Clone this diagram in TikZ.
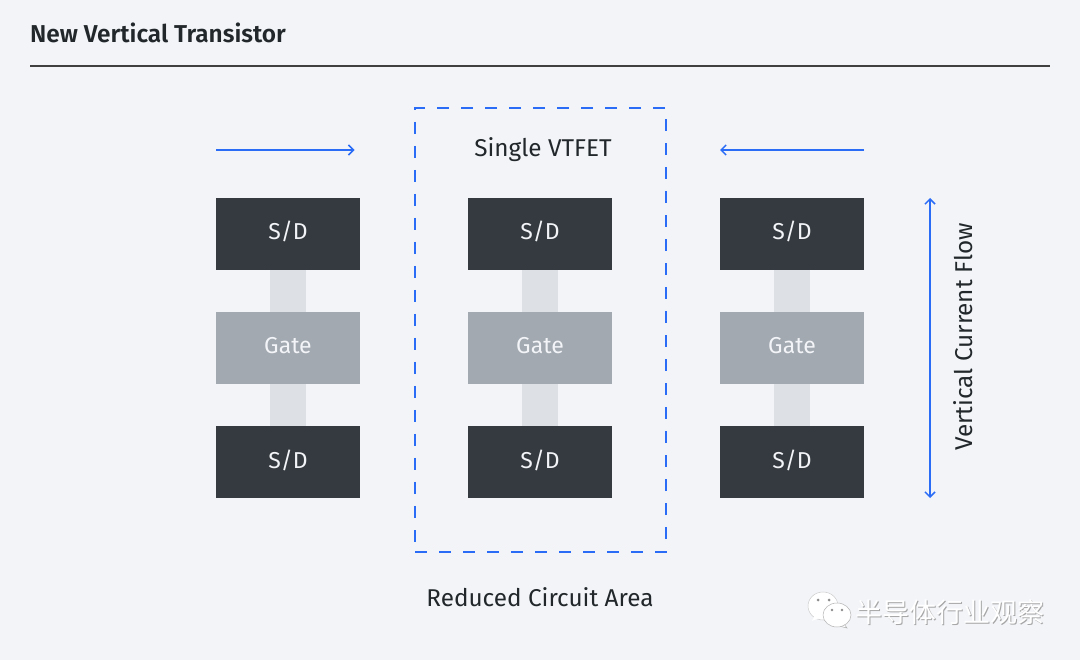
\documentclass[tikz,border=0pt]{standalone}
\usepackage{fontspec}
\setmainfont{Fira Sans}[BoldFont={Fira Sans SemiBold}]
\newfontfamily\cjk{Noto Sans CJK SC}
\usetikzlibrary{arrows.meta}
\definecolor{pagebg}{HTML}{F2F4F8}
\definecolor{darkbox}{HTML}{343A3F}
\definecolor{gatefill}{HTML}{A2A9B0}
\definecolor{channel}{HTML}{DDE1E6}
\definecolor{flowblue}{HTML}{2B6CF6}
\definecolor{inktext}{HTML}{21272A}
\tikzset{
  sdbox/.style={fill=darkbox, text=pagebg, minimum width=144pt, minimum height=72pt, inner sep=0pt, text height=16pt, text depth=4pt, font=\fontsize{23}{23}\selectfont},
  gatebox/.style={sdbox, fill=gatefill},
  textlabel/.style={text=inktext, inner sep=0pt, font=\fontsize{24.3}{24.3}\selectfont},
  barb/.tip={Straight Barb[length=5pt,width=10pt,line width=1.5pt]},
  flow/.style={draw=flowblue, line width=1.5pt},
}
\begin{document}
\begin{tikzpicture}[x=1pt, y=-1pt]
    % Page
    \fill[pagebg] (0,0) rectangle (1080,660);
    \useasboundingbox (0,0) rectangle (1080,660);

    % Heading and rule
    \node[anchor=west, text=inktext, inner sep=0pt, font=\fontsize{24.4}{24.4}\selectfont\bfseries] (title) at (30,33) {New Vertical Transistor};
    \coordinate (ruleL) at (30,66);
    \coordinate (ruleR) at (1050,66);
    \draw[color=black!75, line width=2pt] (ruleL) -- (ruleR);

    % Three transistor stacks
    \foreach \col/\x in {a/288, b/540, c/792} {
        \node[sdbox]   (sdtop\col) at (\x,234) {S/D};
        \node[gatebox] (gate\col)  at (\x,348) {Gate};
        \node[sdbox]   (sdbot\col) at (\x,462) {S/D};
        \draw[channel, line width=36pt] (sdtop\col) -- (gate\col);
        \draw[channel, line width=36pt] (gate\col) -- (sdbot\col);
    }

    % Dashed outline around the middle stack
    \node[draw=flowblue, line width=1.5pt, dash pattern=on 12pt off 12pt, minimum width=251pt, minimum height=444pt, inner sep=0pt] (single) at (540.5,330) {};
    \node[textlabel] (singlelabel) at (543,150) {Single VTFET};
    \node[textlabel] (area) at (540,597) {Reduced Circuit Area};

    % Arrows pushing inwards
    \coordinate (leftS) at (216,150);
    \coordinate (leftE) at (354.5,150);
    \coordinate (rightS) at (864,150);
    \coordinate (rightE) at (720,150);
    \draw[flow, -barb] (leftS) -- (leftE);
    \draw[flow, -barb] (rightS) -- (rightE);

    % Current flow
    \coordinate (flowT) at (930,198);
    \coordinate (flowB) at (930,498);
    \draw[flow, barb-barb] (flowT) -- (flowB);
    \node[textlabel, rotate=90] (flowlabel) at (963,337) {Vertical Current Flow};

    % Watermark
    \node[anchor=west, inner sep=0pt, text=black!35, font=\cjk\fontsize{27}{27}\selectfont] at (856,613) {半导体行业观察};
    \node[anchor=west, inner sep=0pt, text=white, font=\cjk\fontsize{27}{27}\selectfont] (mark) at (855,612) {半导体行业观察};
    \fill[white, draw=black!20, line width=.5pt] (823,606) ellipse[x radius=15, y radius=14];
    \fill[white] (826,615) -- (812,621) -- (817,610) -- cycle;
    \fill[black!45] (818,600) circle[radius=1.5] (829,600) circle[radius=1.5];
    \fill[white, draw=black!30, line width=.5pt] (844,624) -- (847,628) -- (839,626) -- cycle;
    \fill[white, draw=black!30, line width=.5pt] (837,615) ellipse[x radius=14, y radius=12];
    \fill[black!45] (832,610) circle[radius=1.4] (842,610) circle[radius=1.4];
\end{tikzpicture}
\end{document}
